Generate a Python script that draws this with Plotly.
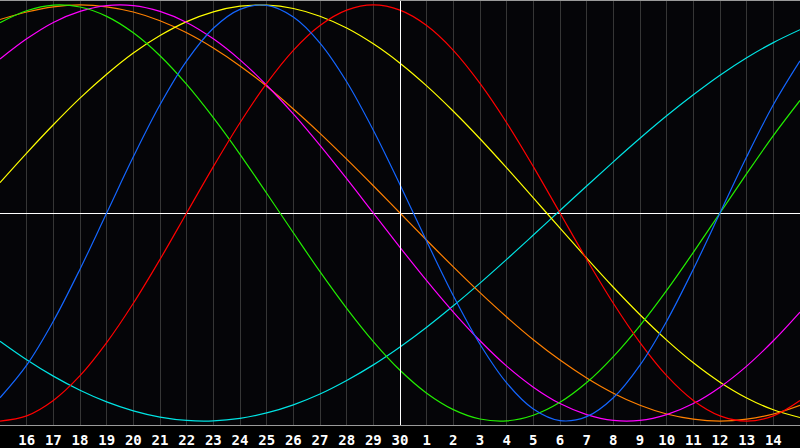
import plotly.graph_objects as go

# day numbers along the bottom, one gridline per day (15th .. 15th of next month)
days = [15, 16, 17, 18, 19, 20, 21, 22, 23, 24, 25, 26, 27, 28, 29, 30,
        1, 2, 3, 4, 5, 6, 7, 8, 9, 10, 11, 12, 13, 14, 15]
day_pos = list(range(len(days)))
today_pos = 15

# cycle values, one per day
physical = [-0.888, -0.731, -0.520, -0.270, 0.0, 0.270, 0.520, 0.731, 0.888, 0.979,
            0.998, 0.942, 0.817, 0.631, 0.398, 0.136, -0.136, -0.398, -0.631, -0.817,
            -0.942, -0.998, -0.979, -0.888, -0.731, -0.520, -0.270, 0.0, 0.270, 0.520, 0.731]
emotional = [-1.0, -0.975, -0.901, -0.782, -0.623, -0.434, -0.223, 0.0, 0.223, 0.434,
             0.623, 0.782, 0.901, 0.975, 1.0, 0.975, 0.901, 0.782, 0.623, 0.434,
             0.223, 0.0, -0.223, -0.434, -0.623, -0.782, -0.901, -0.975, -1.0, -0.975, -0.901]
intellectual = [0.915, 0.972, 0.999, 0.990, 0.945, 0.866, 0.756, 0.618, 0.458, 0.282,
                0.095, -0.095, -0.282, -0.458, -0.618, -0.756, -0.866, -0.945, -0.990, -0.999,
                -0.972, -0.910, -0.815, -0.690, -0.541, -0.372, -0.189, 0.0, 0.189, 0.372, 0.541]
intuitive = [0.740, 0.837, 0.916, 0.969, 0.997, 0.997, 0.969, 0.916, 0.837, 0.736,
             0.614, 0.476, 0.325, 0.165, 0.0, -0.165, -0.325, -0.476, -0.614, -0.736,
             -0.837, -0.916, -0.969, -0.997, -0.997, -0.969, -0.916, -0.837, -0.736, -0.614, -0.476]
aesthetic = [0.146, 0.288, 0.424, 0.552, 0.667, 0.769, 0.853, 0.920, 0.967, 0.994,
             0.999, 0.983, 0.946, 0.889, 0.813, 0.720, 0.611, 0.489, 0.357, 0.217,
             0.073, -0.073, -0.217, -0.357, -0.489, -0.611, -0.720, -0.813, -0.889, -0.946, -0.983]
awareness = [0.930, 0.966, 0.991, 1.0, 0.991, 0.966, 0.924, 0.866, 0.793, 0.707,
             0.609, 0.500, 0.383, 0.259, 0.131, 0.0, -0.131, -0.259, -0.383, -0.500,
             -0.609, -0.707, -0.793, -0.866, -0.924, -0.966, -0.991, -1.0, -0.991, -0.966, -0.924]
spiritual = [-0.616, -0.705, -0.784, -0.852, -0.908, -0.951, -0.981, -0.997, -0.999, -0.987,
             -0.961, -0.922, -0.870, -0.805, -0.730, -0.644, -0.549, -0.446, -0.337, -0.223,
             -0.106, 0.012, 0.130, 0.246, 0.359, 0.467, 0.568, 0.662, 0.746, 0.819, 0.881]

series = [
    ("Spiritual", spiritual, "#00e4e4"),
    ("Awareness", awareness, "#ff8000"),
    ("Aesthetic", aesthetic, "#ffff00"),
    ("Intuitive", intuitive, "#ff00ff"),
    ("Intellectual", intellectual, "#22ee00"),
    ("Emotional", emotional, "#ff0000"),
    ("Physical", physical, "#1466ff"),
]

fig = go.Figure()
for name, vals, color in series:
    fig.add_trace(go.Scatter(x=day_pos, y=vals, name=name, mode="lines",
                             line=dict(color=color, width=1.2, shape="spline", smoothing=1.0)))

# today marker (nudged half a pixel so it renders crisp)
fig.add_vline(x=today_pos + 0.5 / 26.667, line_color="white", line_width=1)

fig.update_layout(
    width=800, height=448,
    margin=dict(l=0, r=0, t=0, b=20),
    paper_bgcolor="#000000",
    plot_bgcolor="#050508",
    showlegend=False,
)
fig.update_xaxes(
    range=[0, len(days) - 1],
    tickvals=day_pos[1:-1],
    ticktext=[str(d) for d in days[1:-1]],
    showgrid=True, gridcolor="#363636", gridwidth=1,
    zeroline=False,
    showline=True, linecolor="#9a9a9a", linewidth=1, mirror=True,
    ticks="", ticklabelstandoff=2,
    tickfont=dict(family="DejaVu Sans Mono", size=14, color="white", weight="bold"),
)
fig.update_yaxes(
    range=[-1.019, 1.019],
    showgrid=False, showticklabels=False,
    zeroline=True, zerolinecolor="white", zerolinewidth=1,
    showline=True, linecolor="#9a9a9a", linewidth=1,
)

fig.write_html("out.html", config={"displayModeBar": False},
               post_script="document.body.style.margin='0';")
